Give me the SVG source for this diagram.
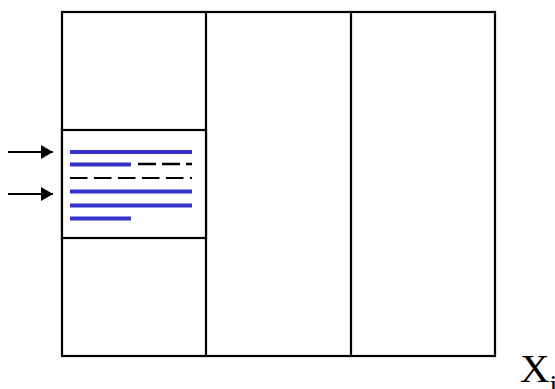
<svg xmlns="http://www.w3.org/2000/svg" width="555" height="389" viewBox="0 0 555 389">
<style>
.frame{fill:none;stroke:#000;stroke-width:2.2}
.blue{stroke:#3333CC;stroke-width:4;fill:none}
.dash{stroke:#000;stroke-width:2.5;fill:none;stroke-dasharray:18 6}
.arr{stroke:#000;stroke-width:2;fill:none}
.lbl{font-family:"Liberation Serif","Times New Roman",serif;fill:#000}
</style>
<defs>
<marker id="ah" markerUnits="userSpaceOnUse" markerWidth="13" markerHeight="15" refX="12" refY="7" orient="auto">
<path d="M0,0 L12,7 L0,14 Z" fill="#000"/>
</marker>
</defs>
<rect width="555" height="389" fill="#fff"/>
<g id="frame">
<rect class="frame" x="62" y="12" width="433" height="344"/>
<line class="frame" x1="206" y1="12" x2="206" y2="356"/>
<line class="frame" x1="351" y1="12" x2="351" y2="356"/>
</g>
<g id="box">
<rect x="62" y="130" width="144" height="108" fill="#fff" stroke="#000" stroke-width="2.2"/>
<line class="blue" x1="70" y1="152" x2="192" y2="152"/>
<line class="blue" x1="70" y1="164.5" x2="131" y2="164.5"/>
<line class="dash" x1="138" y1="164" x2="192" y2="164"/>
<line class="dash" x1="70" y1="178" x2="192" y2="178" style="stroke-width:2;stroke-dasharray:17.5 6.5"/>
<line class="blue" x1="70" y1="191.5" x2="192" y2="191.5"/>
<line class="blue" x1="70" y1="205.5" x2="192" y2="205.5"/>
<line class="blue" x1="70" y1="218.5" x2="131" y2="218.5"/>
</g>
<g id="connectors">
<line class="arr" x1="8" y1="152" x2="53" y2="152" marker-end="url(#ah)"/>
<line class="arr" x1="8" y1="194" x2="53" y2="194" marker-end="url(#ah)"/>
</g>
<g id="label">
<text class="lbl" x="520" y="382" font-size="41">X<tspan font-size="28" dy="12">i</tspan></text>
</g>
</svg>
